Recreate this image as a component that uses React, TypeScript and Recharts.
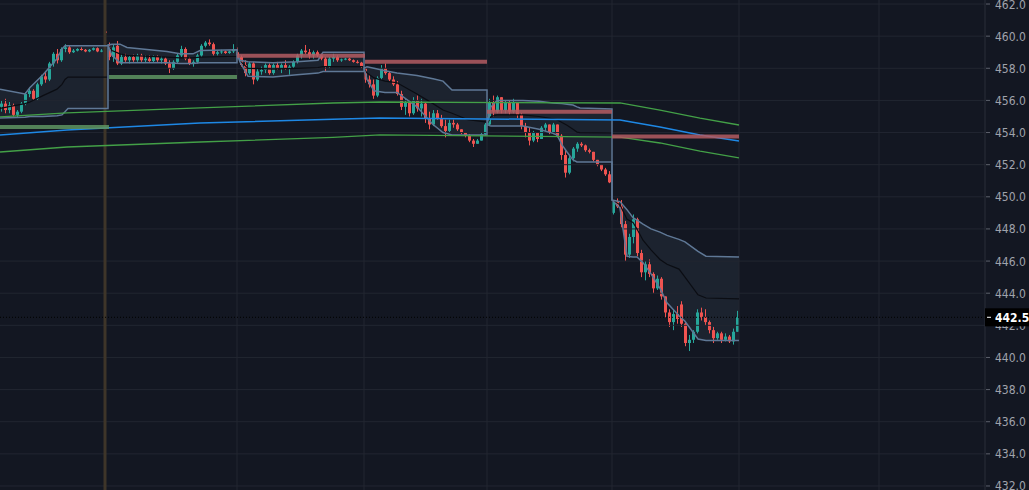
import React from 'react'
import {
    ComposedChart,
    Bar,
    Line,
    Area,
    XAxis,
    YAxis,
    ReferenceLine,
} from 'recharts'

const BG = '#131722'
const UP = '#26a69a'
const DOWN = '#ef5350'
const BAND = '#5f7896'
const GRID = '#222631'
const FONT = '"DejaVu Sans Condensed", "DejaVu Sans", sans-serif'

// candles, one row per bar: open, high, low, close (six sessions)
const day1Candles: number[][] = [
    [455.6, 456.0, 455.3, 455.8], [455.8, 456.1, 455.2, 455.4], [455.4, 455.9, 455.2, 455.7],
    [455.7, 455.8, 455.0, 455.1], [455.1, 455.4, 454.95, 455.3], [455.3, 455.9, 455.2, 455.8],
    [455.8, 456.5, 455.7, 456.4], [456.4, 456.8, 456.2, 456.6], [456.6, 456.7, 456.0, 456.1],
    [456.1, 457.1, 456.0, 457.0], [457.0, 457.6, 456.9, 457.5], [457.5, 457.8, 457.1, 457.3],
    [457.3, 458.4, 457.2, 458.3], [458.3, 459.0, 458.1, 458.9], [458.9, 459.2, 458.3, 458.5],
    [458.5, 459.3, 458.4, 459.2], [459.2, 459.5, 459.0, 459.3], [459.3, 459.4, 458.9, 459.0],
    [459.0, 459.2, 458.95, 459.1], [459.1, 459.25, 459.05, 459.2], [459.2, 459.3, 459.1, 459.15],
    [459.15, 459.2, 459.0, 459.05], [459.05, 459.2, 459.0, 459.15], [459.15, 459.3, 459.1, 459.25],
    [459.25, 459.3, 459.0, 459.05], [459.05, 459.2, 459.0, 459.1], [460.3, 460.45, 460.2, 460.2],
]
const day2Candles: number[][] = [
    [459.3, 459.6, 458.5, 458.7], [458.7, 459.5, 458.4, 459.3], [459.4, 459.7, 458.2, 458.3],
    [458.3, 458.9, 458.2, 458.7], [458.7, 458.9, 458.4, 458.5], [458.5, 458.8, 458.3, 458.7],
    [458.7, 458.85, 458.4, 458.5], [458.5, 458.9, 458.4, 458.8], [458.8, 458.9, 458.4, 458.5],
    [458.5, 458.8, 458.35, 458.6], [458.6, 458.8, 458.4, 458.45], [458.45, 458.8, 458.35, 458.7],
    [458.7, 458.8, 458.4, 458.5], [458.5, 458.75, 458.3, 458.6], [458.6, 458.7, 458.2, 458.3],
    [458.3, 458.5, 457.7, 458.0], [458.0, 458.5, 457.9, 458.4], [458.4, 458.9, 458.3, 458.8],
    [458.8, 459.4, 458.7, 459.2], [459.2, 459.3, 458.5, 458.6], [458.6, 458.7, 458.2, 458.3],
    [458.3, 458.5, 458.1, 458.4], [458.4, 458.9, 458.3, 458.8], [458.8, 459.5, 458.7, 459.4],
    [459.4, 459.7, 459.3, 459.6], [459.6, 459.8, 459.4, 459.5], [459.5, 459.6, 458.8, 458.9],
    [458.9, 459.1, 458.8, 459.0], [459.0, 459.15, 458.9, 459.05], [459.05, 459.1, 458.9, 458.95],
    [458.95, 459.1, 458.9, 459.05], [459.05, 459.5, 458.95, 459.2],
]
const day3Candles: number[][] = [
    [459.0, 459.3, 458.6, 458.7], [458.7, 458.8, 458.1, 458.2], [458.2, 458.5, 457.5, 457.7],
    [457.7, 458.4, 457.6, 458.3], [458.3, 458.4, 457.0, 457.3], [457.3, 458.0, 457.2, 457.8],
    [457.8, 458.1, 457.6, 457.9], [457.9, 458.3, 457.7, 458.2], [458.2, 458.3, 457.6, 457.7],
    [457.7, 458.3, 457.6, 458.2], [458.2, 458.4, 457.9, 458.0], [458.0, 458.3, 457.7, 458.2],
    [458.2, 458.5, 457.9, 458.0], [458.0, 458.2, 457.6, 458.1], [458.1, 458.5, 458.0, 458.4],
    [458.4, 458.9, 458.3, 458.8], [458.8, 459.2, 458.6, 459.1], [459.1, 459.45, 458.9, 459.0],
    [459.0, 459.2, 458.6, 458.8], [458.8, 459.1, 458.6, 459.0], [459.0, 459.1, 458.7, 458.8],
    [458.8, 458.9, 458.5, 458.6], [458.6, 458.7, 457.8, 458.1], [458.1, 458.7, 458.0, 458.6],
    [458.6, 458.9, 458.4, 458.7], [458.7, 458.8, 458.4, 458.5], [458.5, 458.6, 458.4, 458.55],
    [458.55, 458.65, 458.5, 458.6], [458.6, 458.65, 458.45, 458.5], [458.5, 458.55, 458.35, 458.4],
    [458.4, 458.5, 458.3, 458.35], [458.35, 458.4, 458.0, 458.1],
]
const day4Candles: number[][] = [
    [458.0, 458.0, 457.1, 457.3], [457.3, 457.6, 456.8, 457.0], [457.0, 457.3, 456.1, 456.3],
    [456.3, 457.5, 456.2, 457.4], [457.4, 458.2, 457.3, 458.0], [458.0, 458.3, 457.6, 457.7],
    [457.7, 457.8, 457.2, 457.3], [457.3, 457.5, 456.9, 457.0], [457.0, 457.2, 456.3, 456.4],
    [456.4, 456.6, 455.4, 455.6], [455.6, 456.1, 455.1, 455.9], [455.9, 456.0, 455.0, 455.2],
    [455.2, 456.2, 455.1, 456.0], [456.0, 456.3, 455.3, 455.5], [455.5, 456.1, 455.0, 455.8],
    [455.8, 455.9, 454.6, 454.9], [454.9, 455.3, 454.2, 454.5], [454.5, 455.4, 454.4, 455.2],
    [455.2, 455.4, 454.8, 454.9], [454.9, 455.1, 454.3, 454.4], [454.4, 454.8, 453.7, 454.1],
    [454.1, 454.8, 454.0, 454.6], [454.6, 454.8, 454.3, 454.5], [454.5, 454.6, 454.1, 454.2],
    [454.2, 454.2, 453.9, 454.0], [454.0, 454.0, 453.7, 453.8], [453.8, 453.9, 453.4, 453.5],
    [453.5, 453.6, 453.1, 453.3], [453.3, 453.6, 453.3, 453.5], [453.5, 454.0, 453.5, 453.9],
    [453.9, 454.6, 453.8, 454.5],
]
const day5Candles: number[][] = [
    [454.5, 456.1, 454.4, 455.9], [455.9, 456.3, 455.0, 455.3], [455.3, 456.3, 455.2, 456.2],
    [456.2, 456.2, 455.2, 455.4], [455.4, 456.0, 455.2, 455.9], [455.9, 456.0, 455.1, 455.3],
    [455.3, 456.1, 455.2, 455.9], [455.9, 455.9, 454.9, 455.1], [455.1, 455.2, 454.2, 454.4],
    [454.4, 454.6, 453.7, 454.0], [454.0, 454.3, 453.2, 453.5], [453.5, 454.1, 453.4, 454.0],
    [454.0, 454.0, 453.4, 453.6], [453.6, 454.4, 453.6, 454.3], [454.3, 454.6, 454.1, 454.5],
    [454.5, 454.5, 453.9, 454.0], [454.0, 454.6, 453.9, 454.5], [454.5, 454.5, 453.7, 453.8],
    [453.8, 453.9, 452.3, 452.6], [452.6, 452.9, 451.2, 451.5], [451.5, 452.6, 451.4, 452.4],
    [452.4, 453.1, 452.2, 453.0], [453.0, 453.4, 452.8, 453.3], [453.3, 453.4, 453.1, 453.2],
    [453.2, 453.25, 452.8, 452.9], [452.9, 453.0, 452.7, 452.8], [452.8, 452.8, 452.2, 452.3],
    [452.3, 452.3, 451.9, 452.0], [452.0, 452.0, 451.6, 451.7], [451.7, 451.8, 451.3, 451.4],
    [451.4, 451.6, 450.85, 450.9],
]
const day6Candles: number[][] = [
    [449.0, 449.8, 448.9, 449.7], [449.7, 449.9, 449.3, 449.4], [449.4, 449.8, 448.1, 448.3],
    [448.3, 448.5, 446.0, 446.4], [446.4, 447.7, 446.2, 447.5], [447.5, 448.9, 447.1, 448.6],
    [448.6, 448.7, 446.3, 446.5], [446.5, 446.7, 445.0, 445.3], [445.3, 446.0, 444.8, 445.8],
    [445.8, 446.1, 445.0, 445.2], [445.2, 445.3, 444.0, 444.3], [444.3, 445.1, 444.2, 444.9],
    [444.9, 445.0, 443.6, 443.8], [443.8, 443.8, 442.5, 442.8], [442.8, 443.0, 441.9, 442.2],
    [442.2, 443.0, 441.7, 442.7], [442.7, 443.2, 442.1, 442.4], [443.3, 443.5, 441.9, 442.1],
    [442.1, 442.2, 440.7, 440.9], [440.9, 441.4, 440.4, 441.1], [441.1, 441.7, 440.9, 441.6],
    [441.6, 443.0, 441.5, 442.8], [442.8, 443.1, 442.3, 442.5], [442.5, 443.0, 442.0, 442.2],
    [442.2, 442.3, 441.5, 441.7], [441.7, 441.9, 440.9, 441.2], [441.2, 441.6, 441.1, 441.5],
    [441.5, 441.6, 440.9, 441.1], [441.1, 441.5, 441.0, 441.3], [441.3, 441.4, 440.9, 441.0],
    [441.0, 441.8, 440.8, 441.6], [441.6, 442.9, 441.6, 442.5],
]

// session bands: bar position, upper, lower, middle
const day1Band: number[][] = [
    [-0.5, 456.7, 454.9, 455.5], [5.75, 456.4, 454.95, 455.8], [7, 456.8, 455.0, 455.9],
    [10.25, 457.6, 455.0, 456.3], [13.75, 458.6, 455.05, 456.7], [15, 459.2, 455.1, 457.0],
    [15.75, 459.4, 455.3, 457.3], [16.5, 459.4, 455.5, 457.45], [26.5, 459.4, 455.5, 457.45],
]
const day2Band: number[][] = [
    [26.5, 459.45, 459.45, 459.45], [27.5, 459.5, 458.8, 459.1], [29.5, 459.5, 458.35, 458.9],
    [31.25, 459.3, 458.35, 458.8], [41.25, 459.05, 458.35, 458.7], [44.5, 458.9, 458.3, 458.65],
    [47.75, 458.9, 458.3, 458.65], [49.5, 459.1, 458.35, 458.7], [58.75, 459.15, 458.35, 458.75],
]
const day3Band: number[][] = [
    [58.75, 458.9, 458.9, 458.9], [59.5, 458.5, 458.4, 458.45], [61.5, 458.4, 457.5, 458.0],
    [67.75, 458.35, 457.45, 457.95], [73.75, 458.4, 457.6, 458.0], [79, 458.5, 457.7, 458.05],
    [80.25, 459.0, 457.8, 458.1], [90.5, 459.0, 457.8, 458.1],
]
const day4Band: number[][] = [
    [90.5, 458.0, 458.0, 458.0], [91.25, 458.1, 457.3, 457.7], [93, 458.0, 456.6, 457.4],
    [95.75, 457.85, 456.5, 457.2], [98.75, 457.7, 456.5, 457.1], [103.75, 457.55, 455.6, 456.4],
    [107.75, 457.35, 454.5, 455.8], [110.25, 457.2, 454.0, 455.4], [112.5, 456.65, 453.85, 455.2],
    [116.5, 456.65, 453.85, 454.8], [121.25, 456.65, 453.85, 454.65],
]
const day5Band: number[][] = [
    [121.25, 454.5, 454.5, 454.5], [122.25, 455.6, 454.4, 455.0], [123.75, 456.0, 454.4, 455.1],
    [130.25, 456.0, 454.4, 455.1], [134.25, 455.95, 454.2, 455.0], [137.75, 455.84, 453.95, 454.85],
    [138.75, 455.82, 453.85, 454.8], [140, 455.8, 453.23, 454.62], [141.25, 455.76, 452.79, 454.45],
    [142.75, 455.71, 452.3, 454.2], [143.75, 455.6, 452.17, 454.03], [144.5, 455.53, 452.17, 454.0],
    [152.5, 455.47, 452.17, 453.97],
]
const day6Band: number[][] = [
    [152.5, 449.8, 449.8, 449.8], [154.5, 449.7, 449.3, 449.5], [156.25, 449.2, 446.3, 448.6],
    [157.75, 448.7, 446.25, 448.4], [158.75, 448.55, 446.25, 448.0], [160.25, 448.3, 445.9, 447.3],
    [162.25, 448.0, 445.2, 446.7], [164.5, 447.8, 444.3, 446.1], [166.25, 447.6, 443.4, 445.8],
    [169.25, 447.35, 442.6, 445.5], [170.75, 447.2, 442.25, 445.0], [174, 446.6, 441.15, 443.9],
    [176, 446.3, 441.05, 443.7], [184.25, 446.25, 441.05, 443.65],
]

// long envelope: bar position, upper, middle, lower
const envelope: number[][] = [
    [-0.5, 454.97, 453.85, 452.79], [16.25, 455.22, 454.16, 453.1], [49.5, 455.53, 454.6, 453.41],
    [82.75, 455.84, 454.82, 453.7], [94.5, 455.9, 454.9, 453.85], [154.5, 455.84, 454.78, 453.72],
    [164.5, 455.4, 454.35, 453.35], [174.5, 454.9, 453.85, 452.85], [184.25, 454.47, 453.47, 452.42],
]

// session levels: from, to, price
const greenLevels: number[][] = [
    [-0.5, 26.75, 454.35],
    [26.75, 58.75, 457.45],
]
const redLevels: number[][] = [
    [58.75, 90.75, 458.78],
    [90.75, 121.25, 458.4],
    [121.25, 152.5, 455.3],
    [152.5, 184.25, 453.75],
]

const priceTicks = [462, 460, 458, 456, 454, 452, 450, 448, 446, 444, 442, 440, 438, 436, 434, 432]
const LAST_PRICE = 442.5
const timeGrid = [58.75, 90.5, 121.25, 152.5, 184.25, 219.25]
const MARKER_X = 25.75
const BODY_W = 3

const candles = [
    ...day1Candles, ...day2Candles, ...day3Candles,
    ...day4Candles, ...day5Candles, ...day6Candles,
].map(([o, h, l, c], i) => ({ i, o, h, l, c }))

const bands = [...day1Band, ...day2Band, ...day3Band, ...day4Band, ...day5Band, ...day6Band]
    .map(([i, up, lo, mid]) => ({ i, up, lo, mid }))

const envData = envelope.map(([i, up, mid, lo]) => ({ i, up, mid, lo }))

const Candle = (props: any) => {
    const { x, y, width, height, payload } = props
    const { o, h, l, c } = payload
    const color = c >= o ? UP : DOWN
    const top = Math.min(y, y + height)
    const span = Math.abs(height)
    const ratio = h === l ? 0 : span / (h - l)
    const bodyTop = top + (h - Math.max(o, c)) * ratio
    const bodyH = Math.max(1, Math.abs(o - c) * ratio)
    const mid = x + width / 2
    const cx = Math.floor(mid) + 0.5
    return (
        <g>
            <line x1={cx} x2={cx} y1={top} y2={top + Math.max(span, 1)} stroke={color} strokeWidth={1} />
            <rect x={cx - BODY_W / 2} y={bodyTop} width={BODY_W} height={bodyH} fill={color} />
        </g>
    )
}

const PriceTick = (props: any) => {
    const { x, y, payload } = props
    const v = payload.value
    if (v === LAST_PRICE) {
        return (
            <g>
                <rect x={x - 10} y={y - 9} width={44} height={18} fill="#000000" />
                <line x1={x - 8} x2={x - 4} y1={y} y2={y} stroke="#ffffff" />
                <text x={x} y={y} dy={4.5} fill="#ffffff" fontSize={12} fontWeight="bold"
                    style={{ fontFamily: FONT }} textAnchor="start">
                    {v.toFixed(1)}
                </text>
            </g>
        )
    }
    return (
        <g>
            <line x1={x - 9} x2={x - 5} y1={y} y2={y} stroke="#5d616c" />
            <text x={x} y={y} dy={4.5} fill="#a0a3ac" fontSize={12}
                style={{ fontFamily: FONT }} textAnchor="start">
                {v.toFixed(1)}
            </text>
        </g>
    )
}

const levelLine = (seg: number[], color: string, key: string) => (
    <Line
        key={key}
        data={[{ i: seg[0], v: seg[2] }, { i: seg[1], v: seg[2] }]}
        dataKey="v"
        stroke={color}
        strokeWidth={4}
        strokeOpacity={0.85}
        dot={false}
        activeDot={false}
        isAnimationActive={false}
    />
)

const App = () => {
    return (
        <div style={{ position: 'fixed', left: 0, top: 0, width: 1029, height: 490, background: BG }}>
            <ComposedChart
                width={1029}
                height={490}
                data={candles}
                margin={{ top: 0, right: 0, bottom: 0, left: 0 }}
            >
                <XAxis
                    dataKey="i"
                    type="number"
                    domain={[-0.5, 245.75]}
                    allowDataOverflow
                    hide
                />
                <YAxis
                    orientation="right"
                    width={44}
                    domain={[431.75, 462.25]}
                    allowDataOverflow
                    ticks={[...priceTicks, LAST_PRICE]}
                    interval={0}
                    tickSize={4}
                    tickMargin={6}
                    tickLine={false}
                    axisLine={{ stroke: '#2a2e39' }}
                    tick={<PriceTick />}
                />
                {priceTicks.map((v) => (
                    <ReferenceLine key={`h${v}`} y={v} stroke={GRID} />
                ))}
                {timeGrid.map((v) => (
                    <ReferenceLine key={`v${v}`} x={v} stroke={GRID} />
                ))}
                <ReferenceLine x={MARKER_X} stroke="#3e3529" strokeWidth={3} />
                <Area
                    data={bands}
                    dataKey={(d: any) => [d.lo, d.up]}
                    type="linear"
                    stroke="none"
                    fill={BAND}
                    fillOpacity={0.12}
                    isAnimationActive={false}
                    activeDot={false}
                />
                <Line data={bands} dataKey="mid" type="linear" stroke="#0b0d13" strokeWidth={1.2}
                    dot={false} activeDot={false} isAnimationActive={false} />
                <Bar
                    dataKey={(d: any) => [d.l, d.h]}
                    barSize={3}
                    shape={<Candle />}
                    isAnimationActive={false}
                />
                <Line data={bands} dataKey="up" type="linear" stroke={BAND} strokeWidth={1.5}
                    dot={false} activeDot={false} isAnimationActive={false} />
                <Line data={bands} dataKey="lo" type="linear" stroke={BAND} strokeWidth={1.5}
                    dot={false} activeDot={false} isAnimationActive={false} />
                <Line data={envData} dataKey="up" type="linear" stroke="#43a047" strokeWidth={1.3}
                    dot={false} activeDot={false} isAnimationActive={false} />
                <Line data={envData} dataKey="mid" type="linear" stroke="#1e88e5" strokeWidth={1.5}
                    dot={false} activeDot={false} isAnimationActive={false} />
                <Line data={envData} dataKey="lo" type="linear" stroke="#43a047" strokeWidth={1.3}
                    dot={false} activeDot={false} isAnimationActive={false} />
                {greenLevels.map((s, k) => levelLine(s, '#5e9461', `g${k}`))}
                {redLevels.map((s, k) => levelLine(s, '#b45c61', `r${k}`))}
                <ReferenceLine y={LAST_PRICE} stroke="#000000" strokeDasharray="1 2" />
            </ComposedChart>
        </div>
    )
}

export default App
